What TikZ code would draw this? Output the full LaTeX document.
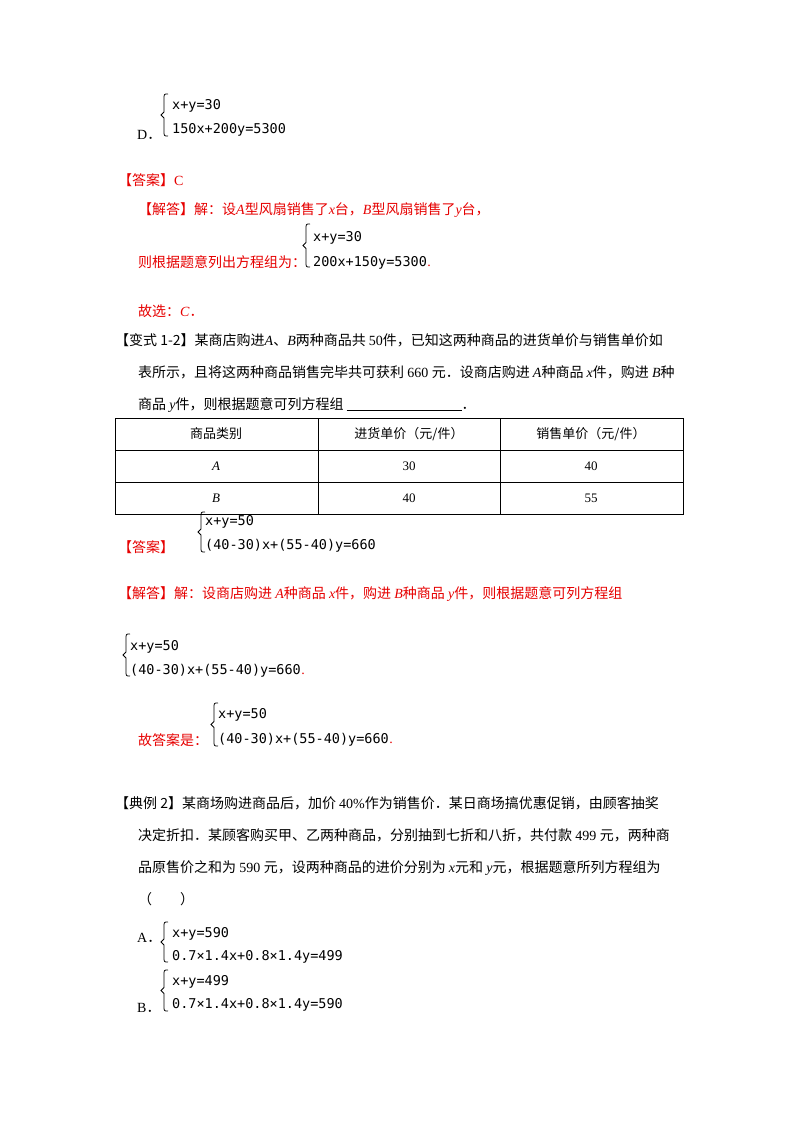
\documentclass[tikz,border=0pt]{standalone}
\usepackage{fontspec}
\setmainfont{Liberation Serif}
\newfontfamily\cjk{Noto Sans CJK SC}
\newfontfamily\eqf{DejaVu Sans Mono}
\definecolor{ansred}{RGB}{230,0,0}
\begin{document}
\begin{tikzpicture}[x=1pt,y=-1pt,
  t/.style={anchor=base west,inner sep=0,font=\fontsize{14}{16}\selectfont},
  eq/.style={anchor=base west,inner sep=0,font=\eqf\fontsize{13.5}{15}\selectfont},
  red/.style={text=ansred},
  brc/.style={line width=0.8pt}]
\useasboundingbox (0,0) rectangle (800,1132);
\newcommand{\eqbrace}[3]{\draw[brc] (#1+5,#2) .. controls (#1+1,#2) .. (#1+1,#2+5) -- (#1+1,{(#2+#3)/2-3}) -- (#1-2,{(#2+#3)/2}) -- (#1+1,{(#2+#3)/2+3}) -- (#1+1,#3-5) .. controls (#1+1,#3) .. (#1+5,#3);}
% D
\node[t] (dl) at (137,139) {D\cjk ．};
\eqbrace{163}{94}{136}
\node[eq] (d1) at (172,109) {x+y=30};
\node[eq] (d2) at (172,133) {150x+200y=5300};
\node[t,red] (a1) at (118,185) {\cjk【答案】\rmfamily C};
\node[t,red] (j1) at (138,214) {\cjk【解答】解：设\rmfamily\itshape A\upshape\cjk 型风扇销售了\rmfamily\itshape x\upshape\cjk 台，\rmfamily\itshape B\upshape\cjk 型风扇销售了\rmfamily\itshape y\upshape\cjk 台，};
\eqbrace{305}{224}{267}
\node[eq] (e1) at (313,241) {x+y=30};
\node[eq] (e2) at (313,266) {200x+150y=5300};
\node[t,red] (e3) at (e2.base east) {.};
\node[t,red] (j2) at (138,267) {\cjk 则根据题意列出方程组为：};
\node[t,red] (g1) at (138,316) {\cjk 故选：\rmfamily\itshape C\upshape\cjk ．};
% 变式
\node[t] (b1) at (115,345) {\cjk【变式 1-2】某商店购进\rmfamily\itshape A\upshape\cjk 、\rmfamily\itshape B\upshape\cjk 两种商品共 \rmfamily 50\cjk 件，已知这两种商品的进货单价与销售单价如};
\node[t] (b2) at (138,377) {\cjk 表所示，且将这两种商品销售完毕共可获利 \rmfamily 660 \cjk 元．设商店购进 \rmfamily\itshape A\upshape\cjk 种商品 \rmfamily\itshape x\upshape\cjk 件，购进 \rmfamily\itshape B\upshape\cjk 种};
\node[t] (b3) at (138,409) {\cjk 商品 \rmfamily\itshape y\upshape\cjk 件，则根据题意可列方程组 \rmfamily\underline{\hspace{115pt}}\cjk ．};
% table
\draw[line width=0.7pt] (115,418) rectangle (683,514);
\draw[line width=0.7pt] (115,450) -- (683,450) (115,482) -- (683,482) (318,418) -- (318,514) (500,418) -- (500,514);
\node[font=\cjk\fontsize{13}{15}\selectfont] (h1) at (216,434) {商品类别};
\node[font=\cjk\fontsize{13}{15}\selectfont] (h2) at (409,434) {进货单价（元/件）};
\node[font=\cjk\fontsize{13}{15}\selectfont] (h3) at (591,434) {销售单价（元/件）};
\node[font=\itshape\fontsize{13}{15}\selectfont] (r1) at (216,466) {A};
\node[font=\fontsize{13}{15}\selectfont] (r2) at (409,466) {30};
\node[font=\fontsize{13}{15}\selectfont] (r3) at (591,466) {40};
\node[font=\itshape\fontsize{13}{15}\selectfont] (s1) at (216,498) {B};
\node[font=\fontsize{13}{15}\selectfont] (s2) at (409,498) {40};
\node[font=\fontsize{13}{15}\selectfont] (s3) at (591,498) {55};
% answer
\node[t,red] (a2) at (118,552) {\cjk【答案】};
\eqbrace{200}{512}{552}
\node[eq] (f1) at (205,525) {x+y=50};
\node[eq] (f2) at (205,549) {(40-30)x+(55-40)y=660};
\node[t,red] (j3) at (118,598) {\cjk【解答】解：设商店购进 \rmfamily\itshape A\upshape\cjk 种商品 \rmfamily\itshape x\upshape\cjk 件，购进 \rmfamily\itshape B\upshape\cjk 种商品 \rmfamily\itshape y\upshape\cjk 件，则根据题意可列方程组};
\eqbrace{125}{634}{676}
\node[eq] (k1) at (130,650) {x+y=50};
\node[eq] (k2) at (130,674) {(40-30)x+(55-40)y=660};
\node[t,red] (k3) at (k2.base east) {.};
\node[t,red] (g2) at (138,745) {\cjk 故答案是：};
\eqbrace{213}{703}{746}
\node[eq] (m1) at (218,718) {x+y=50};
\node[eq] (m2) at (218,743) {(40-30)x+(55-40)y=660};
\node[t,red] (m3) at (m2.base east) {.};
% 典例2
\node[t] (c1) at (115,808) {\cjk【典例 2】某商场购进商品后，加价 \rmfamily 40\%\cjk 作为销售价．某日商场搞优惠促销，由顾客抽奖};
\node[t] (c2) at (138,840) {\cjk 决定折扣．某顾客购买甲、乙两种商品，分别抽到七折和八折，共付款 \rmfamily 499 \cjk 元，两种商};
\node[t] (c3) at (138,872) {\cjk 品原售价之和为 \rmfamily 590 \cjk 元，设两种商品的进价分别为 \rmfamily\itshape x\upshape\cjk 元和 \rmfamily\itshape y\upshape\cjk 元，根据题意所列方程组为};
\node[t] (c4) at (138,904) {\cjk （　　）};
\node[t] (oa) at (137,942) {A\cjk ．};
\eqbrace{163}{922}{962}
\begin{scope}
\clip (160,915) rectangle (360,1015);
\node[eq] (oa1) at (172,937) {x+y=590};
\node[eq] (oa2) at (172,960) {0.7×1.4x+0.8×1.4y=499};
\node[eq] (ob1) at (172,985) {x+y=499};
\node[eq] (ob2) at (172,1008) {0.7×1.4x+0.8×1.4y=590};
\end{scope}
\node[t] (ob) at (137,1012) {B\cjk ．};
\eqbrace{163}{970}{1011}
\end{tikzpicture}
\end{document}
